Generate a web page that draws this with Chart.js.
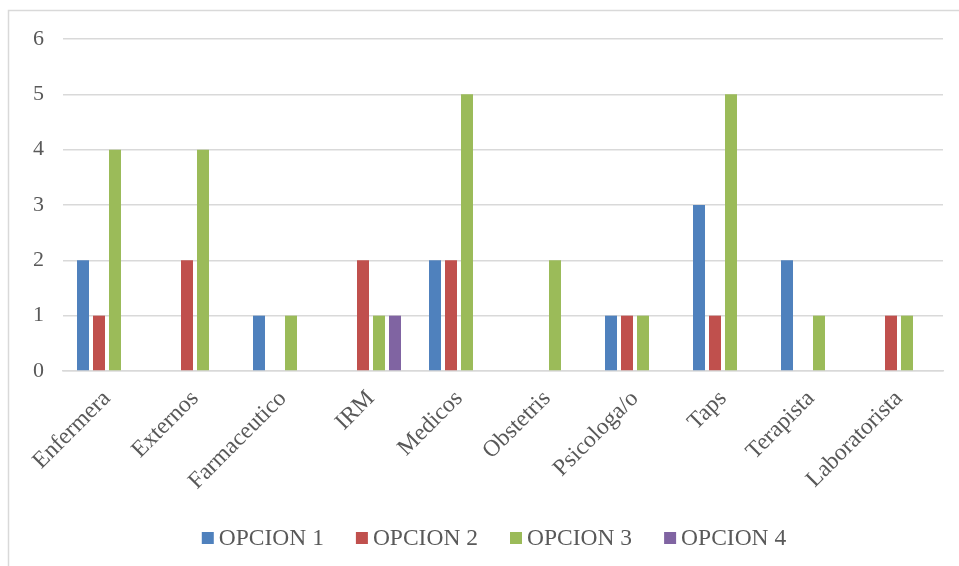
<!DOCTYPE html>
<html>
<head>
<meta charset="utf-8">
<script src="https://cdn.jsdelivr.net/npm/chart.js@4/dist/chart.umd.min.js"></script>
<style>
  html, body { margin: 0; padding: 0; background: #ffffff; }
  #wrap { width: 959px; height: 566px; position: relative; }
</style>
</head>
<body>
<div id="wrap"><canvas id="c" width="959" height="566"></canvas></div>
<script>
const categories = ['Enfermera', 'Externos', 'Farmaceutico', 'IRM', 'Medicos', 'Obstetris', 'Psicologa/o', 'Taps', 'Terapista', 'Laboratorista'];
const opcion1 = [2, 0, 1, 0, 2, 0, 1, 3, 2, 0];
const opcion2 = [1, 2, 0, 2, 2, 0, 1, 1, 0, 1];
const opcion3 = [4, 4, 1, 1, 5, 2, 1, 5, 1, 1];
const opcion4 = [0, 0, 0, 1, 0, 0, 0, 0, 0, 0];
const seriesNames = ['OPCION 1', 'OPCION 2', 'OPCION 3', 'OPCION 4'];
const yTicks = [0, 1, 2, 3, 4, 5, 6];

const colors = ['#4F81BD', '#C0504D', '#9BBB59', '#8064A2'];
const textColor = '#595959';
const gridColor = '#D9D9D9';
const serif = "'Liberation Serif', 'Times New Roman', serif";

// Frame lines around the chart (left and top edges)
const framePlugin = {
  id: 'frame',
  beforeDraw(chart) {
    const ctx = chart.ctx;
    ctx.save();
    ctx.fillStyle = '#ffffff';
    ctx.fillRect(0, 0, chart.width, chart.height);
    ctx.strokeStyle = gridColor;
    ctx.lineWidth = 1.5;
    ctx.beginPath();
    ctx.moveTo(8.5, chart.height);
    ctx.lineTo(8.5, 10.5);
    ctx.lineTo(chart.width, 10.5);
    ctx.stroke();
    ctx.restore();
  }
};

// Legend row: small square swatch, short gap, serif label
const legendRow = {
  id: 'legendRow',
  afterDraw(chart) {
    const ctx = chart.ctx;
    const box = 12, gap = 5, spacing = 32;
    ctx.save();
    ctx.font = '23.5px ' + serif;
    ctx.textBaseline = 'middle';
    const items = chart.data.datasets.map(ds => ({
      text: ds.label, color: ds.backgroundColor, w: ctx.measureText(ds.label).width
    }));
    const total = items.reduce((s, it) => s + box + gap + it.w, 0) + spacing * (items.length - 1);
    let x = 494 - total / 2;
    const cy = 538;
    items.forEach(it => {
      ctx.fillStyle = it.color;
      ctx.fillRect(x, cy - box / 2, box, box);
      ctx.fillStyle = textColor;
      ctx.fillText(it.text, x + box + gap, cy + 1);
      x += box + gap + it.w + spacing;
    });
    ctx.restore();
  }
};

const seriesValues = [opcion1, opcion2, opcion3, opcion4];

new Chart(document.getElementById('c'), {
  type: 'bar',
  data: {
    labels: categories,
    datasets: seriesValues.map((vals, i) => ({
      label: seriesNames[i],
      data: vals,
      backgroundColor: colors[i],
      borderWidth: 0,
      categoryPercentage: 0.727,
      barPercentage: 0.75
    }))
  },
  options: {
    responsive: false,
    animation: false,
    devicePixelRatio: 1,
    layout: { padding: { left: 0, right: 16, top: 39, bottom: 0 } },
    plugins: {
      legend: { display: false },
      tooltip: { enabled: false }
    },
    scales: {
      x: {
        grid: { display: false, drawTicks: false },
        border: { display: true, color: gridColor, width: 1.5 },
        ticks: {
          color: textColor,
          font: { family: serif, size: 23.5 },
          minRotation: 45,
          maxRotation: 45,
          padding: 14,
          autoSkip: false
        },
        afterFit(scale) { scale.height = 195; }
      },
      y: {
        min: 0,
        max: 6,
        afterBuildTicks(scale) { scale.ticks = yTicks.map(v => ({ value: v })); },
        grid: { color: gridColor, lineWidth: 1.5, drawTicks: false },
        border: { display: false },
        ticks: {
          color: textColor,
          font: { family: serif, size: 22 },
          padding: 19
        },
        afterFit(scale) { scale.width = 63; }
      }
    }
  },
  plugins: [framePlugin, legendRow]
});
</script>
</body>
</html>
